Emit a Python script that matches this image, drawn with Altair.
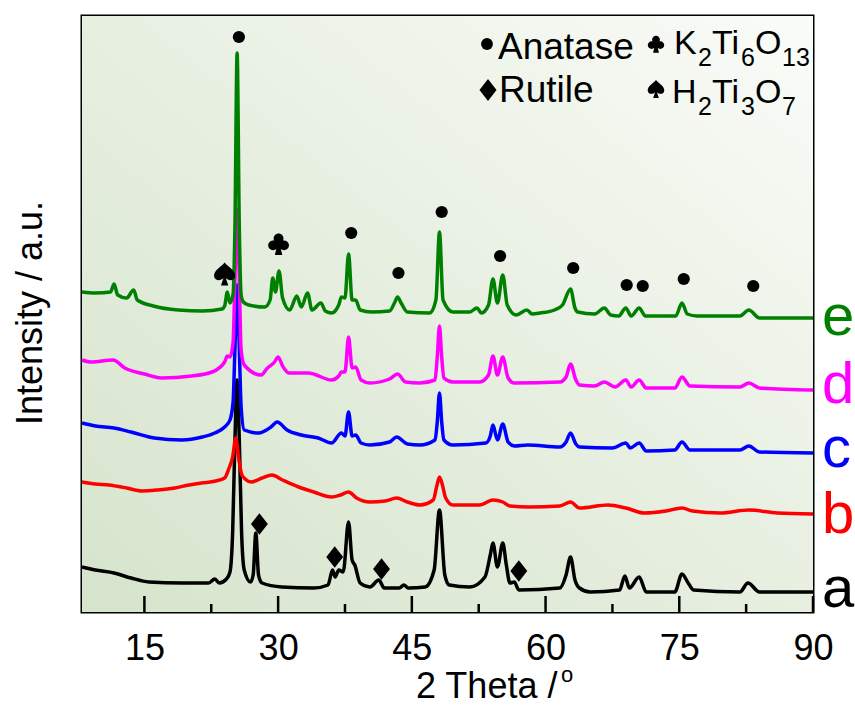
import altair as alt
import pandas as pd

# ---------------- data (2θ in degrees, stacked intensity in a.u.) ----------------
sample_a = [(8.0,45),(9.5,42),(11.6,39),(13.5,34),(15.5,30),(19.2,29),(22.2,29),(22.9,33),(23.4,29),(24.2,33),
            (24.6,40),(24.9,80),(25.15,170),(25.4,232),(25.65,170),(25.9,80),(26.2,42),(26.9,30),(27.2,37),(27.5,79),
            (27.8,37),(28.2,29),(30.4,25),(34.0,24),(35.6,27),(36.1,42),(36.4,35),(36.8,42),(37.3,40),(37.9,90),
            (38.3,52),(38.6,47),(39.2,29),(40.3,25),(41.3,32),(41.9,24),(43.6,24),(44.1,27),(44.6,24),(46.5,25),
            (47.5,42),(48.1,102),(48.7,37),(49.2,27),(51.5,25),(53.2,35),(53.8,57),(54.1,69),(54.6,45),(55.2,69),
            (55.6,47),(56.0,29),(56.5,30),(57.0,22),(61.6,24),(62.3,37),(62.8,55),(63.3,32),(63.8,24),(65.0,20),
            (68.3,22),(68.9,36),(69.4,24),(70.5,35),(71.3,20),(74.5,20),(75.3,38),(76.0,29),(76.6,22),(81.8,20),
            (82.7,29),(84.0,20),(90.0,20)]
sample_b = [(8.0,130),(9.5,128),(11.0,127),(13.0,124),(14.7,121),(16.5,122),(18.4,124),(20.0,127),(21.4,129),
            (23.0,131),(24.0,134),(24.5,144),(24.9,155),(25.25,174),(25.6,152),(25.9,138),(26.3,133),(27.0,130),
            (28.2,134),(29.3,137),(30.5,132),(32.3,125),(34.0,120),(36.0,115),(37.0,117),(37.9,120),(38.8,114),
            (40.3,110),(42.0,111),(43.3,114),(44.5,110),(45.9,107),(47.4,112),(47.8,126),(48.1,135),(48.4,128),
            (48.8,114),(49.6,107),(52.6,107),(54.1,112),(55.2,110),(56.0,106),(58.2,105),(61.6,106),(62.8,110),
            (63.8,104),(67.0,107),(69.0,104),(71.1,99),(73.5,101),(75.3,104),(76.5,101),(79.6,99),(82.8,102),
            (86.0,99),(90.0,98)]
sample_c = [(8.0,189),(9.5,186),(11.6,184),(13.5,180),(16.1,174),(19.2,172),(21.5,175),(22.9,179),(24.0,185),
            (24.6,192),(24.95,210),(25.15,262),(25.4,327),(25.65,262),(25.85,205),(26.2,182),(27.8,179),(29.2,185),
            (29.9,190),(31.0,182),(32.6,177),(34.5,174),(36.0,169),(37.1,179),(37.5,176),(37.9,200),(38.3,176),
            (38.7,177),(39.3,169),(40.3,167),(42.5,170),(43.3,175),(44.5,168),(45.9,167),(47.6,172),(47.85,190),
            (48.1,219),(48.35,190),(48.6,172),(49.6,167),(53.3,169),(53.8,176),(54.1,187),(54.6,172),(55.2,188),
            (55.8,170),(56.5,166),(58.0,167),(61.6,165),(62.3,170),(62.8,179),(63.4,168),(63.8,165),(67.5,164),
            (69.0,169),(69.5,164),(70.5,169),(71.3,161),(74.5,162),(75.3,170),(76.2,162),(81.8,162),(82.8,166),
            (84.0,160),(90.0,159)]
sample_d = [(8.0,252),(9.0,250),(11.5,252),(12.8,244),(15.0,238),(16.9,234),(20.3,236),(22.6,240),(24.0,250),
            (24.3,256),(24.6,255),(24.95,270),(25.15,330),(25.4,403),(25.65,330),(25.85,262),(26.2,247),(28.1,237),
            (28.8,244),(29.6,250),(30.0,255),(30.5,246),(31.2,239),(33.4,239),(36.0,232),(36.8,236),(37.1,240),
            (37.5,240),(37.9,275),(38.3,244),(38.7,245),(39.3,232),(40.3,229),(42.5,233),(43.4,238),(44.3,230),
            (45.9,229),(47.6,232),(47.85,255),(48.1,286),(48.35,255),(48.6,234),(49.6,230),(52.6,230),(53.6,237),
            (54.1,256),(54.6,237),(55.2,255),(55.8,234),(56.5,229),(61.6,230),(62.3,235),(62.8,248),(63.4,232),
            (63.8,227),(65.5,226),(66.6,230),(67.8,225),(69.0,232),(69.6,225),(70.5,232),(71.3,224),(74.5,224),
            (75.3,235),(76.2,226),(81.8,225),(82.8,229),(84.0,224),(90.0,222)]
sample_e = [(8.0,320),(9.5,319),(11.2,320),(11.6,328),(12.0,317),(13.0,314),(13.8,322),(14.2,312),(16.0,306),
            (18.8,302),(21.5,301),(23.7,303),(24.0,306),(24.3,320),(24.6,309),(24.95,318),(25.15,382),(25.4,559),
            (25.65,382),(25.85,317),(26.1,310),(26.7,307),(28.5,305),(29.1,312),(29.4,334),(29.7,320),(30.1,341),
            (30.5,314),(31.3,302),(32.1,316),(32.6,305),(33.3,319),(33.8,302),(34.8,309),(35.3,301),(36.0,299),
            (36.8,307),(37.1,315),(37.5,314),(37.9,358),(38.3,312),(38.7,312),(39.2,302),(40.5,300),(42.5,301),
            (43.1,310),(43.4,315),(43.8,309),(44.5,300),(47.0,299),(47.7,312),(48.1,380),(48.5,312),(49.6,300),
            (51.5,300),(52.3,304),(52.8,299),(53.6,307),(54.1,333),(54.6,309),(55.2,337),(55.7,307),(56.7,297),
            (57.9,302),(58.5,298),(59.4,299),(61.0,302),(61.9,307),(62.8,323),(63.3,304),(63.6,300),(65.5,298),
            (66.6,304),(67.3,297),(68.2,296),(69.0,304),(69.6,296),(70.5,304),(71.2,296),(74.6,296),(75.3,309),
            (75.9,298),(77.0,296),(81.8,296),(82.8,302),(84.0,294),(90.0,294)]

series_names = ["a", "b", "c", "d", "e"]
series_colors = ["#000000", "#ff0000", "#0000ff", "#ff00ff", "#008000"]

anatase_marks = [(25.6,575),(38.2,379),(43.5,339),(48.35,400),(54.9,356),(63.1,344),(69.1,327),(70.9,326),(75.5,333),(83.3,326)]
rutile_marks = [(27.9,88),(36.35,55),(41.6,43),(57.0,41)]
k2ti6o13_marks = [(30.05,368)]
h2ti3o7_marks = [(24.0,338)]

major_ticks = [15, 30, 45, 60, 75, 90]
minor_ticks = [22.5, 37.5, 52.5, 67.5, 82.5]

# ---------------- layout ----------------
W, H = 731, 596
OX, OY = 82, 16
FONT = "Liberation Sans"
X_DOMAIN = [8, 90]
Y_DOMAIN = [0, 596]

rows = []
for name, pts in zip(series_names, [sample_a, sample_b, sample_c, sample_d, sample_e]):
    for t, v in pts:
        rows.append({"s": name, "tt": t, "I": v})
df = pd.DataFrame(rows)

xs = alt.Scale(domain=X_DOMAIN, nice=False, zero=False)
ys = alt.Scale(domain=Y_DOMAIN, nice=False, zero=False)
X_AXIS = alt.Axis(values=major_ticks, ticks=False, domain=False, grid=False,
                  labelFontSize=36, labelFont=FONT, labelColor="black",
                  labelPadding=19, title=None, labelFlush=False)
dummy = pd.DataFrame({"z": [0]})


def X(field="tt"):
    return alt.X(f"{field}:Q", scale=xs, axis=X_AXIS)


def Y(field="I"):
    return alt.Y(f"{field}:Q", scale=ys, axis=None)


def circle_path(cx, cy, r):
    k = 0.5523 * r
    f = lambda v: f"{v:.3f}"
    return (f"M{f(cx - r)},{f(cy)} "
            f"C{f(cx - r)},{f(cy - k)} {f(cx - k)},{f(cy - r)} {f(cx)},{f(cy - r)} "
            f"C{f(cx + k)},{f(cy - r)} {f(cx + r)},{f(cy - k)} {f(cx + r)},{f(cy)} "
            f"C{f(cx + r)},{f(cy + k)} {f(cx + k)},{f(cy + r)} {f(cx)},{f(cy + r)} "
            f"C{f(cx - k)},{f(cy + r)} {f(cx - r)},{f(cy + k)} {f(cx - r)},{f(cy)} Z ")


# symbol shapes (unit box -1..1)
DIAMOND = "M0,-1 L0.78,0 L0,1 L-0.78,0 Z"
SPADE = ("M0,-1 C0.3,-0.6 1,-0.3 0.92,0.22 C0.85,0.62 0.35,0.62 0.1,0.36 "
         "L0.32,1 L-0.32,1 L-0.1,0.36 C-0.35,0.62 -0.85,0.62 -0.92,0.22 C-1,-0.3 -0.3,-0.6 0,-1 Z")
CLUB = (circle_path(0, -0.5, 0.45) + circle_path(-0.5, 0.12, 0.45) + circle_path(0.5, 0.12, 0.45)
        + "M-0.5,0.1 L0,-0.5 L0.5,0.1 L0,0.5 Z M-0.12,0.1 L0.12,0.1 L0.34,1 L-0.34,1 Z")

background = alt.Chart(dummy).mark_rect(
    fill=alt.Gradient(
        gradient="linear", x1=0, y1=1, x2=1, y2=0,
        stops=[alt.GradientStop(color="#d6e4cc", offset=0),
               alt.GradientStop(color="#e7efe1", offset=0.5),
               alt.GradientStop(color="#fafcf8", offset=1)]),
    strokeWidth=0,
).encode(x=alt.value(0), x2=alt.value(W), y=alt.value(0), y2=alt.value(H))

lines = alt.Chart(df).mark_line(strokeWidth=3.5, strokeJoin="round", interpolate="monotone").encode(
    x=X(), y=Y(),
    color=alt.Color("s:N", scale=alt.Scale(domain=series_names, range=series_colors), legend=None),
)

ticks_major = alt.Chart(pd.DataFrame({"tt": major_ticks})).mark_rule(color="black", strokeWidth=2.5).encode(
    x=X(), y=alt.value(H), y2=alt.value(H - 16))
ticks_minor = alt.Chart(pd.DataFrame({"tt": minor_ticks})).mark_rule(color="black", strokeWidth=2.5).encode(
    x=X(), y=alt.value(H), y2=alt.value(H - 8))


def mk_df(pts):
    return pd.DataFrame({"tt": [p[0] for p in pts], "I": [p[1] for p in pts]})


def sym(pts, shape, size):
    return alt.Chart(mk_df(pts)).mark_point(
        shape=shape, filled=True, size=size, color="black", opacity=1, strokeWidth=0).encode(x=X(), y=Y())


anatase = sym(anatase_marks, "circle", 150)
rutile = sym(rutile_marks, DIAMOND, 470)
club = sym(k2ti6o13_marks, CLUB, 480)
spade = sym(h2ti3o7_marks, SPADE, 520)


def txt(s, x, y, size, color="black", font=FONT, angle=None, align="left", baseline="alphabetic"):
    kw = dict(align=align, baseline=baseline, fontSize=size, font=font, color=color)
    if angle is not None:
        kw["angle"] = angle
    return alt.Chart(dummy).mark_text(**kw).encode(
        x=alt.value(x - OX), y=alt.value(y - OY), text=alt.value(s))


def legend_sym(shape, size, x, y):
    return alt.Chart(dummy).mark_point(shape=shape, filled=True, size=size, color="black",
                                       opacity=1, strokeWidth=0).encode(
        x=alt.value(x - OX), y=alt.value(y - OY))


annot = []
# legend block
annot.append(legend_sym("circle", 140, 487, 44))
annot.append(legend_sym(DIAMOND, 480, 488, 90))
annot.append(legend_sym(CLUB, 300, 656, 44))
annot.append(legend_sym(SPADE, 320, 656, 89))
annot.append(txt("Anatase", 498, 59, 37))
annot.append(txt("Rutile", 499, 102, 37))
LS, SS = 34, 25
for s, x, y, sz in [("K", 674, 54, LS), ("2", 698, 66, SS), ("Ti", 712, 54, LS), ("6", 741, 66, SS),
                    ("O", 755, 54, LS), ("13", 782, 66, SS),
                    ("H", 672, 103, LS), ("2", 698, 115, SS), ("Ti", 712, 103, LS), ("3", 741, 115, SS),
                    ("O", 755, 103, LS), ("7", 782, 115, SS)]:
    annot.append(txt(s, x, y, sz))

# sample letters at right
for name, col, base in zip(series_names, series_colors, [607, 533, 467, 403, 335]):
    annot.append(txt(name, 822, base, 58, color=col))

# axis titles
annot.append(txt("Intensity / a.u.", 42, 313, 36, angle=270, align="center"))
annot.append(txt("2 Theta /", 416, 698, 36))
annot.append(txt("o", 561, 682, 22))

chart = alt.layer(background, lines, ticks_major, ticks_minor, anatase, rutile, club, spade, *annot).properties(
    width=W, height=H,
    autosize=alt.AutoSizeParams(type="none"),
    padding={"left": OX, "top": OY, "right": 855 - OX - W, "bottom": 705 - OY - H},
    background="white",
).configure_view(stroke="black", strokeWidth=3)

chart.save("out.html", embed_options={"renderer": "svg", "actions": False})
